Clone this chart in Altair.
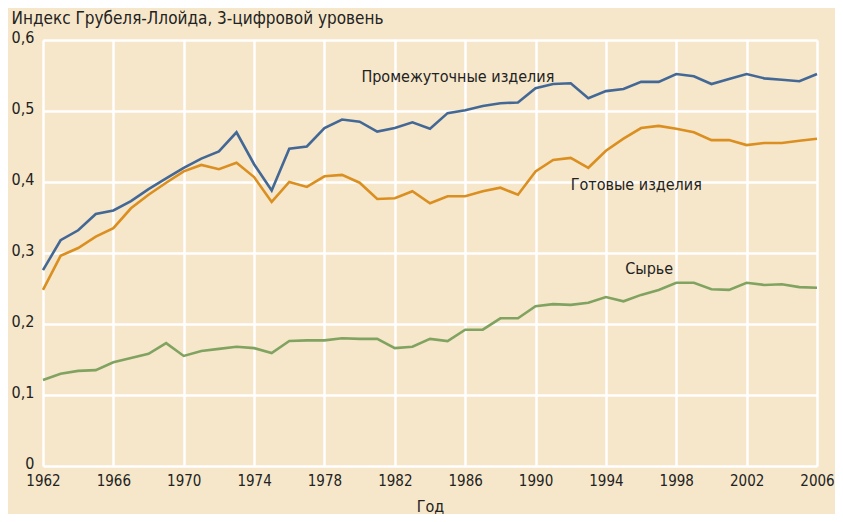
import altair as alt
import pandas as pd

years = list(range(1962, 2007))

intermediate = [0.276, 0.318, 0.332, 0.355, 0.360, 0.373, 0.390, 0.405, 0.420, 0.433,
                0.443, 0.470, 0.425, 0.388, 0.447, 0.450, 0.476, 0.488, 0.485, 0.471,
                0.476, 0.484, 0.475, 0.497, 0.501, 0.507, 0.511, 0.512, 0.532, 0.538,
                0.539, 0.518, 0.528, 0.531, 0.541, 0.541, 0.552, 0.549, 0.538, 0.545,
                0.552, 0.546, 0.544, 0.542, 0.552]

finished = [0.248, 0.296, 0.307, 0.323, 0.335, 0.363, 0.382, 0.399, 0.415, 0.424,
            0.418, 0.427, 0.407, 0.372, 0.400, 0.393, 0.408, 0.410, 0.399, 0.376,
            0.377, 0.387, 0.370, 0.380, 0.380, 0.387, 0.392, 0.382, 0.415, 0.431,
            0.434, 0.420, 0.444, 0.461, 0.476, 0.479, 0.475, 0.470, 0.459, 0.459,
            0.452, 0.455, 0.455, 0.458, 0.461]

raw = [0.121, 0.130, 0.134, 0.135, 0.146, 0.152, 0.158, 0.173, 0.155, 0.162,
       0.165, 0.168, 0.166, 0.159, 0.176, 0.177, 0.177, 0.180, 0.179, 0.179,
       0.166, 0.168, 0.179, 0.176, 0.192, 0.192, 0.208, 0.208, 0.225, 0.228,
       0.227, 0.230, 0.238, 0.232, 0.241, 0.248, 0.258, 0.258, 0.249, 0.248,
       0.258, 0.255, 0.256, 0.252, 0.251]

series_names = ["Промежуточные изделия", "Готовые изделия", "Сырье"]
series_colors = ["#436896", "#DA8F20", "#80A361"]

label_text = ["Промежуточные изделия", "Готовые изделия", "Сырье"]
label_year = [1980.1, 1992.0, 1995.1]
label_value = [0.548, 0.396, 0.277]

x_ticks = list(range(1962, 2007, 4))
y_ticks = [0, 0.1, 0.2, 0.3, 0.4, 0.5, 0.6]

rows = []
for name, vals in zip(series_names, [intermediate, finished, raw]):
    for y, v in zip(years, vals):
        rows.append({"year": y, "value": v, "series": name})
df = pd.DataFrame(rows)
labels_df = pd.DataFrame({"text": label_text, "year": label_year, "value": label_value})

FONT = "Liberation Sans Narrow, DejaVu Sans Condensed, Roboto, sans-serif"
BG = "#F6E7CA"

x_enc = alt.X("year:Q", scale=alt.Scale(domain=[1962, 2006], nice=False, zero=False),
              axis=alt.Axis(values=x_ticks, format="d", title="Год", titleFontWeight="normal",
                            titleFontSize=16, titleFont=FONT, titleY=40, titleBaseline="middle",
                            titleColor="#222",
                            labelFontSize=15, labelFont=FONT, labelColor="#222",
                            labelPadding=7, ticks=False, domain=False,
                            gridColor="white", gridWidth=2.5, gridOpacity=1, labelFlush=False))
y_enc = alt.Y("value:Q", scale=alt.Scale(domain=[0, 0.6], nice=False),
              axis=alt.Axis(values=y_ticks, title="Индекс Грубеля-Ллойда, 3-цифровой уровень",
                            titleAngle=0, titleAlign="left", titleBaseline="middle",
                            titleX=-32, titleY=-22, titleFontWeight="normal",
                            titleFontSize=17, titleFont=FONT, titleColor="#222",
                            labelExpr="datum.value == 0 ? '0' : replace(format(datum.value, '.1f'), '.', ',')",
                            labelFontSize=16, labelFont=FONT, labelColor="#222",
                            labelPadding=9, labelOffset=-3, ticks=False, domain=False,
                            gridColor="white", gridWidth=2.5, gridOpacity=1))

lines = alt.Chart(df).mark_line(strokeWidth=2.6).encode(
    x=x_enc, y=y_enc,
    color=alt.Color("series:N", scale=alt.Scale(domain=series_names, range=series_colors), legend=None),
    detail="series:N",
)

texts = alt.Chart(labels_df).mark_text(align="left", baseline="middle", fontSize=16,
                                       font=FONT, color="#222").encode(
    x="year:Q", y="value:Q", text="text:N")

chart = alt.layer(lines, texts).properties(
    width=774, height=426, background=BG,
    padding={"left": 35, "top": 32, "right": 18, "bottom": 48},
    autosize=alt.AutoSizeParams(type="none"),
).configure_view(stroke=None, fill=BG)

chart.save("out.html", embed_options={"renderer": "svg", "actions": False})
